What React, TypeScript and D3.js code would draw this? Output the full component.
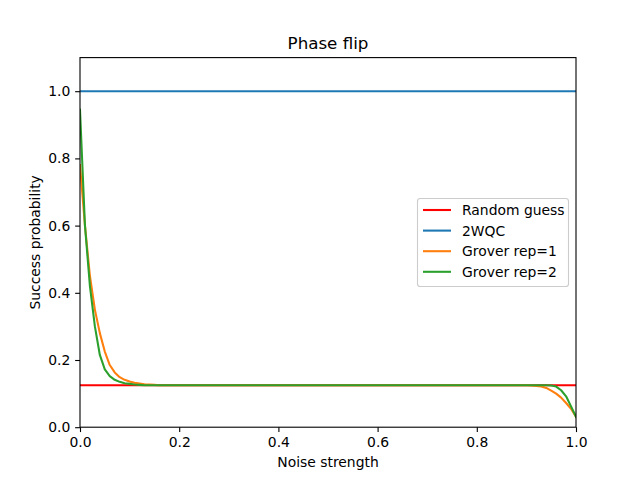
import { useEffect, useRef } from "react";
import * as d3 from "d3";

// x grid: noise strength sampled in steps of 0.01
const noiseStrength = d3.range(101).map(i => i / 100);

const randomGuess = [0.125, 0.125];
const twoWqc = [1.0, 1.0];
const lineEnds = [0, 1];

const groverRep1 = [
    0.78, 0.60, 0.45, 0.35, 0.28, 0.225, 0.185, 0.163, 0.149, 0.141, 0.136, 0.132, 0.130, 0.128, 0.127, 0.126,
    0.125, 0.125, 0.125, 0.125, 0.125, 0.125, 0.125, 0.125, 0.125, 0.125, 0.125, 0.125, 0.125, 0.125, 0.125,
    0.125, 0.125, 0.125, 0.125, 0.125, 0.125, 0.125, 0.125, 0.125, 0.125, 0.125, 0.125, 0.125, 0.125, 0.125,
    0.125, 0.125, 0.125, 0.125, 0.125, 0.125, 0.125, 0.125, 0.125, 0.125, 0.125, 0.125, 0.125, 0.125, 0.125,
    0.125, 0.125, 0.125, 0.125, 0.125, 0.125, 0.125, 0.125, 0.125, 0.125, 0.125, 0.125, 0.125, 0.125, 0.125,
    0.125, 0.125, 0.125, 0.125, 0.125, 0.125, 0.125, 0.125, 0.125, 0.125, 0.125, 0.125, 0.125, 0.125, 0.125,
    0.124, 0.123, 0.121, 0.117, 0.109, 0.100, 0.088, 0.072, 0.055, 0.031,
];

const groverRep2 = [
    0.945, 0.60, 0.42, 0.30, 0.215, 0.172, 0.152, 0.141, 0.135, 0.131, 0.129, 0.127, 0.126,
    0.125, 0.125, 0.125, 0.125, 0.125, 0.125, 0.125, 0.125, 0.125, 0.125, 0.125, 0.125, 0.125, 0.125, 0.125,
    0.125, 0.125, 0.125, 0.125, 0.125, 0.125, 0.125, 0.125, 0.125, 0.125, 0.125, 0.125, 0.125, 0.125, 0.125,
    0.125, 0.125, 0.125, 0.125, 0.125, 0.125, 0.125, 0.125, 0.125, 0.125, 0.125, 0.125, 0.125, 0.125, 0.125,
    0.125, 0.125, 0.125, 0.125, 0.125, 0.125, 0.125, 0.125, 0.125, 0.125, 0.125, 0.125, 0.125, 0.125, 0.125,
    0.125, 0.125, 0.125, 0.125, 0.125, 0.125, 0.125, 0.125, 0.125, 0.125, 0.125, 0.125, 0.125, 0.125, 0.125,
    0.125, 0.125, 0.125, 0.125, 0.125, 0.125, 0.125,
    0.124, 0.121, 0.110, 0.092, 0.062, 0.031,
];

const xTicks = [0, 0.2, 0.4, 0.6, 0.8, 1.0];
const yTicks = [0, 0.2, 0.4, 0.6, 0.8, 1.0];

const legendLabels = ["Random guess", "2WQC", "Grover rep=1", "Grover rep=2"];
const legendColors = ["#ff0000", "#1f77b4", "#ff7f0e", "#2ca02c"];

export default function App() {
    const svgRef = useRef<SVGSVGElement>(null);

    useEffect(() => {
        const svg = d3.select(svgRef.current);
        svg.selectAll("*").remove();

        const width = 640;
        const height = 480;
        const margin = { top: 57.6, right: 64, bottom: 52.8, left: 80 };
        const font = "DejaVu Sans, sans-serif";

        svg.append("rect").attr("width", width).attr("height", height).attr("fill", "white");

        const x = d3.scaleLinear().domain([0, 1]).range([margin.left, width - margin.right]);
        const y = d3.scaleLinear().domain([0, 1.1]).range([height - margin.bottom, margin.top]);

        const line = d3.line<[number, number]>()
            .x(d => x(d[0]))
            .y(d => y(d[1]));

        const series = [
            { pts: lineEnds.map((v, i) => [v, randomGuess[i]] as [number, number]), color: legendColors[0] },
            { pts: lineEnds.map((v, i) => [v, twoWqc[i]] as [number, number]), color: legendColors[1] },
            { pts: noiseStrength.map((v, i) => [v, groverRep1[i]] as [number, number]), color: legendColors[2] },
            { pts: noiseStrength.map((v, i) => [v, groverRep2[i]] as [number, number]), color: legendColors[3] },
        ];

        svg.append("defs").append("clipPath").attr("id", "plot-clip")
            .append("rect")
            .attr("x", x(0)).attr("y", y(1.1))
            .attr("width", x(1) - x(0)).attr("height", y(0) - y(1.1));

        const plot = svg.append("g").attr("clip-path", "url(#plot-clip)");
        series.forEach(s => {
            plot.append("path")
                .datum(s.pts)
                .attr("fill", "none")
                .attr("stroke", s.color)
                .attr("stroke-width", 2.08)
                .attr("stroke-linejoin", "round")
                .attr("stroke-linecap", "square")
                .attr("d", line);
        });

        // Axes
        const xAxis = svg.append("g")
            .attr("transform", `translate(0,${y(0)})`)
            .call(d3.axisBottom(x).tickValues(xTicks).tickFormat(d3.format(".1f")).tickSize(4.86).tickPadding(4.86).tickSizeOuter(0));
        xAxis.select(".domain").remove();

        const yAxis = svg.append("g")
            .attr("transform", `translate(${x(0)},0)`)
            .call(d3.axisLeft(y).tickValues(yTicks).tickFormat(d3.format(".1f")).tickSize(4.86).tickPadding(4.86).tickSizeOuter(0));
        yAxis.select(".domain").remove();

        [xAxis, yAxis].forEach(a => {
            a.selectAll("line").attr("stroke", "black").attr("stroke-width", 1.1);
            a.selectAll("text").attr("fill", "black").style("font-family", font).style("font-size", "13.9px");
        });

        // Spines
        svg.append("rect")
            .attr("x", x(0)).attr("y", y(1.1))
            .attr("width", x(1) - x(0)).attr("height", y(0) - y(1.1))
            .attr("fill", "none").attr("stroke", "black").attr("stroke-width", 1.1);

        // Title and labels
        svg.append("text")
            .attr("x", (x(0) + x(1)) / 2).attr("y", 49)
            .attr("text-anchor", "middle")
            .style("font-family", font).style("font-size", "16.7px")
            .text("Phase flip");

        svg.append("text")
            .attr("x", (x(0) + x(1)) / 2).attr("y", 467)
            .attr("text-anchor", "middle")
            .style("font-family", font).style("font-size", "13.9px")
            .text("Noise strength");

        svg.append("text")
            .attr("transform", `translate(40,${(y(0) + y(1.1)) / 2}) rotate(-90)`)
            .attr("text-anchor", "middle")
            .style("font-family", font).style("font-size", "13.9px")
            .text("Success probability");

        // Legend
        const legend = svg.append("g");
        legend.append("rect")
            .attr("x", 417.5).attr("y", 198.5)
            .attr("width", 151).attr("height", 88)
            .attr("rx", 2.8)
            .attr("fill", "white").attr("fill-opacity", 0.8)
            .attr("stroke", "#cccccc").attr("stroke-width", 1.1);

        legendLabels.forEach((label, i) => {
            const cy = 210 + i * 20.6;
            legend.append("line")
                .attr("x1", 423).attr("x2", 451)
                .attr("y1", cy).attr("y2", cy)
                .attr("stroke", legendColors[i]).attr("stroke-width", 2.08);
            legend.append("text")
                .attr("x", 462).attr("y", cy).attr("dy", "0.36em")
                .style("font-family", font).style("font-size", "13.9px")
                .text(label);
        });
    }, []);

    return (
        <svg ref={svgRef} width={640} height={480} style={{ position: "absolute", left: 0, top: 0 }} />
    );
}
